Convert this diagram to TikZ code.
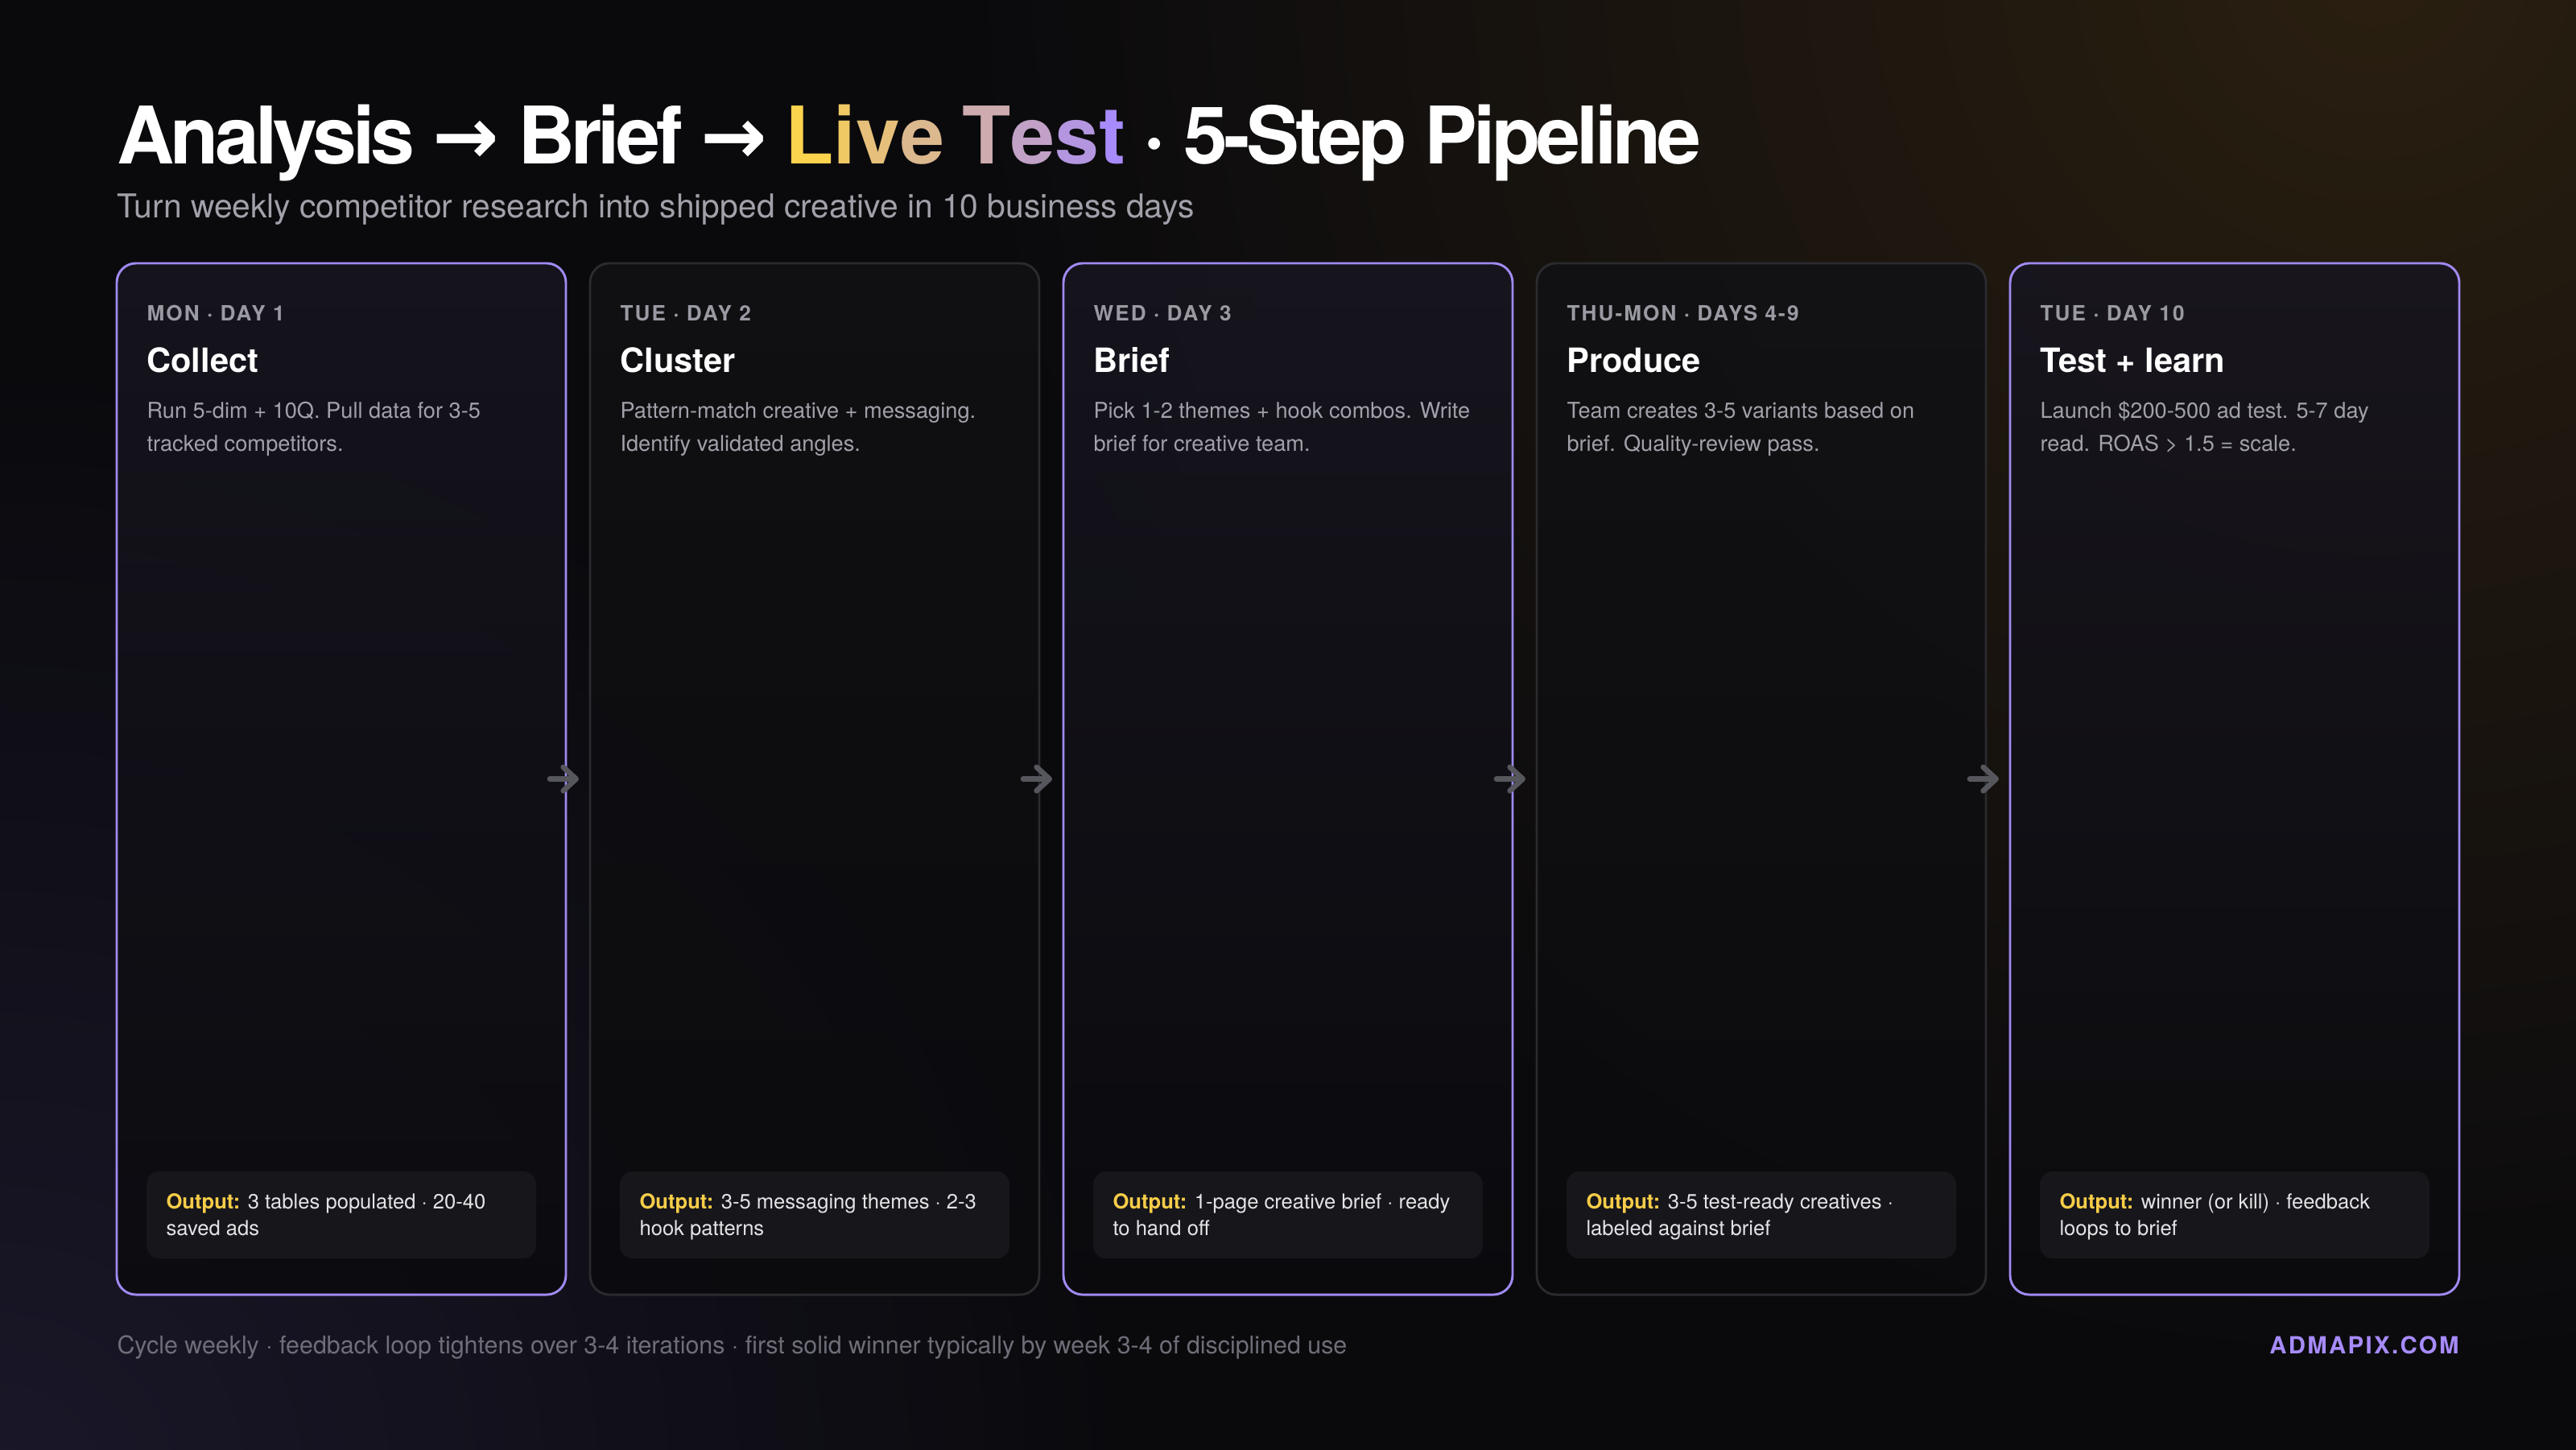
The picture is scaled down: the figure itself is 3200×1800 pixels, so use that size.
\documentclass[tikz,border=0pt]{standalone}
\usepackage{fontspec}
\setmainfont{TeX Gyre Heros}
\newfontfamily\arrowfont{DejaVu Sans}
\newfontfamily\trackfont[LetterSpace=8]{TeX Gyre Heros}
\newfontfamily\headfont[LetterSpace=-5]{TeX Gyre Heros}
\usetikzlibrary{arrows.meta,positioning,calc}

\definecolor{bgbase}{HTML}{0A0A0D}
\definecolor{glowwarm}{HTML}{2A1F10}
\definecolor{glowcool}{HTML}{1A1729}
\definecolor{cardhi}{HTML}{17151F}
\definecolor{cardlo}{HTML}{111114}
\definecolor{cardbot}{HTML}{0B0B0E}
\definecolor{hiline}{HTML}{A08AF2}
\definecolor{dimline}{HTML}{2A2A2F}
\definecolor{outfill}{HTML}{16161B}
\definecolor{outlbl}{HTML}{F8CD48}
\definecolor{outtxt}{HTML}{E4E4E7}
\definecolor{daytxt}{HTML}{9A9AA3}
\definecolor{desctxt}{HTML}{A1A1AA}
\definecolor{subtxt}{HTML}{A1A1AA}
\definecolor{foottxt}{HTML}{6E6E78}
\definecolor{brand}{HTML}{A78BFA}
\definecolor{arrowcol}{HTML}{56565D}
\definecolor{gold}{HTML}{FCD34D}
\definecolor{lilac}{HTML}{A78BFA}

\colorlet{lt1}{gold}
\colorlet{lt2}{gold!86!lilac}
\colorlet{lt3}{gold!74!lilac}
\colorlet{lt4}{gold!62!lilac}
\colorlet{lt5}{gold!44!lilac}
\colorlet{lt6}{gold!30!lilac}
\colorlet{lt7}{gold!15!lilac}
\colorlet{lt8}{lilac}
\newcommand\livetest{\textcolor{lt1}{L}\textcolor{lt2}{i}\textcolor{lt3}{v}\textcolor{lt4}{e} \textcolor{lt5}{T}\textcolor{lt6}{e}\textcolor{lt7}{s}\textcolor{lt8}{t}}

\tikzset{
 card/.style={rounded corners=9pt, line width=1.1pt, minimum width=209.25pt,
   minimum height=480.4pt, anchor=north west, inner sep=0pt, outer sep=0pt,
   bottom color=cardbot, fill opacity=.88},
 daylbl/.style={anchor=base west, inner sep=0pt, text=daytxt,
   font=\trackfont\bfseries\fontsize{9.8}{11}\selectfont},
 steptitle/.style={anchor=base west, inner sep=0pt, text=white,
   font=\bfseries\fontsize{15.6}{18}\selectfont},
 desc/.style={anchor=base west, inner sep=0pt, text=desctxt,
   font=\fontsize{10.2}{12}\selectfont},
 outbox/.style={fill=outfill, rounded corners=6pt, minimum width=181.5pt,
   minimum height=40.5pt, anchor=south west, inner sep=0pt, outer sep=0pt},
 outline/.style={anchor=base west, inner sep=0pt, text=outtxt,
   font=\fontsize{9.6}{11}\selectfont},
 flow/.style={draw=arrowcol, line width=2.5pt, line cap=round,
   -{Straight Barb[length=6pt,width=11pt,line cap=round,round]},
   shorten <=-7.5pt, shorten >=5.25pt}
}

\begin{document}
\begin{tikzpicture}[x=0.375pt,y=0.375pt]

\useasboundingbox (0,0) rectangle (3200,1800);

% background glow
\fill[bgbase] (-20,-20) rectangle (3220,1820);
\begin{scope}
\clip (-20,-20) rectangle (3220,1820);
\shade[inner color=glowwarm, outer color=bgbase] (2950,1850) circle (1750);
\shade[inner color=glowcool, outer color=bgbase] (0,-50) circle (1400);
\end{scope}

% heading
\path (145,1596) node[anchor=base west, inner sep=0pt, text=white,
  font=\headfont\bfseries\fontsize{37}{40}\selectfont, name=head]
  {Analysis {\arrowfont →} Brief {\arrowfont →} \livetest{} · 5-Step Pipeline};
\path (145,1529) node[anchor=base west, inner sep=0pt, text=subtxt,
  font=\fontsize{15.3}{17}\selectfont, name=sub]
  {Turn weekly competitor research into shipped creative in 10 business days};

% the five steps
\foreach \i/\day/\name/\da/\db/\oa/\ob/\bc/\tc in {
 0/MON · DAY 1/Collect/Run 5-dim + 10Q. Pull data for 3-5/tracked competitors./3 tables populated · 20-40/saved ads/hiline/cardhi,
 1/TUE · DAY 2/Cluster/Pattern-match creative + messaging./Identify validated angles./3-5 messaging themes · 2-3/hook patterns/dimline/cardlo,
 2/WED · DAY 3/Brief/Pick 1-2 themes + hook combos. Write/brief for creative team./1-page creative brief · ready/to hand off/hiline/cardhi,
 3/THU-MON · DAYS 4-9/Produce/Team creates 3-5 variants based on/brief. Quality-review pass./3-5 test-ready creatives ·/labeled against brief/dimline/cardlo,
 4/TUE · DAY 10/Test + learn/Launch \$200-500 ad test. 5-7 day/read. ROAS > 1.5 = scale./winner (or kill) · feedback/loops to brief/hiline/cardhi}
{
 \path (145+588*\i,1473) node[card, draw=\bc, top color=\tc, name=c\i] {};
 \path (c\i.north west) ++(37,-72) node[daylbl, name=day\i] {\day};
 \path (c\i.north west) ++(37,-136) node[steptitle, name=t\i] {\name};
 \path (c\i.north west) ++(37,-193) node[desc, name=da\i] {\da};
 \path (c\i.north west) ++(37,-234) node[desc, name=db\i] {\db};
 \path (c\i.south west) ++(37,45) node[outbox, name=obox\i] {};
 \path (obox\i.north west) ++(24,-46) node[outline, name=ol\i]
   {{\bfseries\color{outlbl}Output:} \oa};
 \path (obox\i.north west) ++(24,-79) node[outline, name=om\i] {\ob};
}

\foreach \i in {0,...,3}{
 \pgfmathtruncatemacro\j{\i+1}
 \draw[flow] (c\i.east) -- (c\j.west);
}

% footer
\path (145,118) node[anchor=base west, inner sep=0pt, text=foottxt,
  font=\fontsize{11.4}{13}\selectfont, name=foot]
  {Cycle weekly · feedback loop tightens over 3-4 iterations · first solid winner typically by week 3-4 of disciplined use};
\path (3055,118) node[anchor=base east, inner sep=0pt, text=brand,
  font=\trackfont\bfseries\fontsize{11}{13}\selectfont, name=site] {ADMAPIX.COM};

\end{tikzpicture}
\end{document}
